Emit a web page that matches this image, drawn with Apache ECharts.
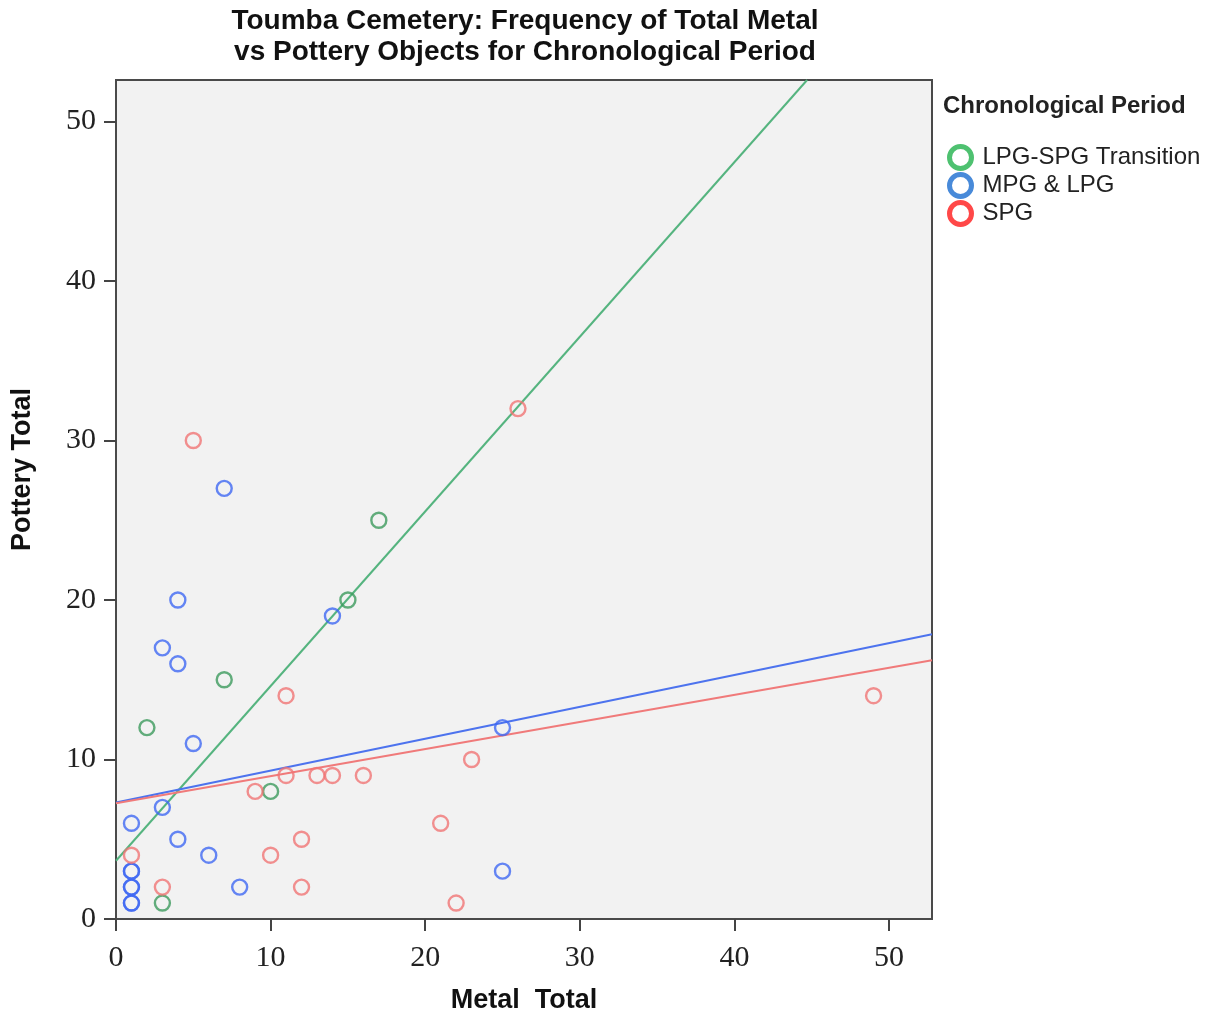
<!DOCTYPE html>
<html>
<head>
<meta charset="utf-8">
<script src="https://cdn.jsdelivr.net/npm/echarts@6/dist/echarts.min.js"></script>
<style>
    html, body { margin: 0; padding: 0; background: #fff; }
    #chart { width: 1210px; height: 1014px; }
</style>
</head>
<body>
<div id="chart"></div>
<script>
// points as [metal, pottery]
var transition_points = [[2, 12], [3, 1], [7, 15], [10, 8], [15, 20], [17, 25]]
var mpg_lpg_points = [
    [1, 1], [1, 1], [1, 2], [1, 2], [1, 3], [1, 3], [1, 6], [3, 7], [3, 17],
    [4, 5], [4, 16], [4, 20], [5, 11], [6, 4], [7, 27], [8, 2], [14, 19],
    [25, 3], [25, 12]
]
var spg_points = [
    [1, 4], [3, 2], [5, 30], [9, 8], [10, 4], [11, 9], [11, 14], [12, 2],
    [12, 5], [13, 9], [14, 9], [16, 9], [21, 6], [22, 1], [23, 10], [26, 32], [49, 14]
]
// fit lines: [intercept, slope]
var transition_fit = [3.65, 1.095]
var mpg_lpg_fit = [7.3, 0.2]
var spg_fit = [7.25, 0.17]

var group_names = ['LPG-SPG Transition', 'MPG & LPG', 'SPG']
var x_max = 52.78
var y_max = 52.6

function fit_line(fit) {
    // two ends of the line, cut at the top of the plot
    var x_end = x_max
    var y_end = fit[0] + fit[1] * x_max
    if (y_end > y_max) {
        x_end = (y_max - fit[0]) / fit[1]
        y_end = y_max
    }
    return [[0, fit[0]], [x_end, y_end]]
}

var chartDom = document.getElementById('chart')
var myChart = echarts.init(chartDom)

var point_style = function (color) {
    return {
        type: 'scatter',
        symbol: 'circle',
        symbolSize: 15,
        itemStyle: { color: 'rgba(0,0,0,0)', borderColor: color, borderWidth: 2.4 },
        z: 3
    }
}
var line_style = function (color) {
    return {
        type: 'line',
        symbol: 'none',
        silent: true,
        lineStyle: { color: color, width: 2 },
        z: 2
    }
}

var legend_colors = ['#22b14c', '#1a6dd0', '#ff1a1a']

var options = {
    animation: false,
    backgroundColor: '#fff',
    title: [
        {
            text: 'Toumba Cemetery: Frequency of Total Metal\nvs Pottery Objects for Chronological Period',
            left: 520,
            top: 1,
            textAlign: 'center',
            textStyle: { fontFamily: 'Liberation Sans, Arial', fontWeight: 'bold', fontSize: 28, lineHeight: 31, color: '#111' }
        },
        {
            text: 'Chronological Period',
            left: 943,
            top: 94,
            padding: 0,
            textStyle: { fontFamily: 'Liberation Sans, Arial', fontWeight: 'bold', fontSize: 24, color: '#222' }
        }
    ],
    legend: {
        data: group_names.map(function (name, i) {
            return {
                name: name,
                itemStyle: { color: '#fff', borderColor: legend_colors[i], borderWidth: 5 }
            }
        }),
        orient: 'vertical',
        left: 947,
        top: 144,
        padding: 0,
        itemGap: 1,
        itemWidth: 22,
        itemHeight: 22,
        icon: 'circle',
        textStyle: { fontFamily: 'Liberation Sans, Arial', fontSize: 24, lineHeight: 24, color: '#222', padding: [0, 0, 0, 6] }
    },
    grid: {
        left: 116, top: 80, width: 816, height: 839,
        outerBoundsMode: 'none',
        show: true, backgroundColor: '#f2f2f2', borderColor: '#4a4a4a', borderWidth: 2
    },
    xAxis: {
        type: 'value',
        min: 0,
        max: x_max,
        interval: 10,
        name: 'Metal  Total',
        nameLocation: 'middle',
        nameGap: 68,
        nameTextStyle: { fontFamily: 'Liberation Sans, Arial', fontWeight: 'bold', fontSize: 27, color: '#111' },
        axisLine: { show: false },
        axisTick: { show: true, length: 12, lineStyle: { color: '#444', width: 2 } },
        axisLabel: { margin: 24, fontFamily: 'Liberation Serif, Times New Roman', fontSize: 30, color: '#222', showMaxLabel: false },
        splitLine: { show: false }
    },
    yAxis: {
        type: 'value',
        min: 0,
        max: y_max,
        interval: 10,
        name: 'Pottery Total',
        nameLocation: 'middle',
        nameGap: 80,
        nameTextStyle: { fontFamily: 'Liberation Sans, Arial', fontWeight: 'bold', fontSize: 27, color: '#111', padding: [0, 0, 0, 60] },
        axisLine: { show: false },
        axisTick: { show: true, length: 12, lineStyle: { color: '#444', width: 2 } },
        axisLabel: { margin: 20, fontFamily: 'Liberation Serif, Times New Roman', fontSize: 30, color: '#222', showMaxLabel: false },
        splitLine: { show: false }
    },
    series: [
        Object.assign(line_style('#55b47f'), { name: 'fit-transition', data: fit_line(transition_fit) }),
        Object.assign(line_style('#4d73ee'), { name: 'fit-mpg', data: fit_line(mpg_lpg_fit) }),
        Object.assign(line_style('#f07a7a'), { name: 'fit-spg', data: fit_line(spg_fit) }),
        Object.assign(point_style('#3c9a5c'), { name: group_names[0], data: transition_points }),
        Object.assign(point_style('#3f68f2'), { name: group_names[1], data: mpg_lpg_points }),
        Object.assign(point_style('#f07474'), { name: group_names[2], data: spg_points })
    ]
}

myChart.setOption(options)
window.addEventListener('resize', () => { myChart.resize() }, false)
</script>
</body>
</html>
